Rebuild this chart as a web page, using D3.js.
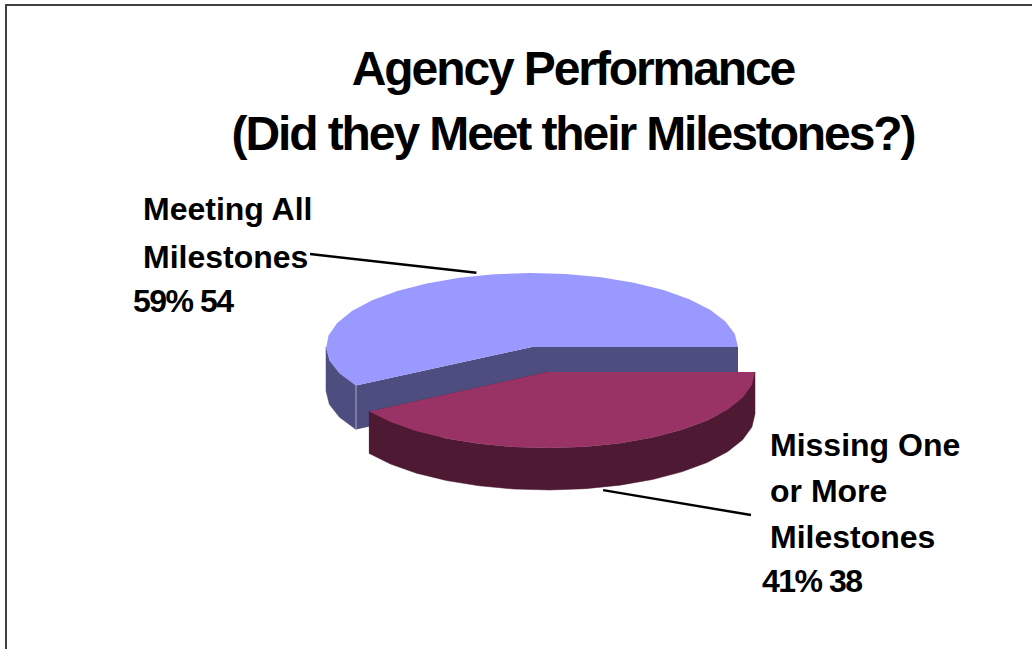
<!DOCTYPE html>
<html>
<head>
<meta charset="utf-8">
<script src="https://d3js.org/d3.v7.min.js"></script>
<style>
  html, body { margin: 0; padding: 0; background: #fff; overflow: hidden; }
  text { font-family: "Liberation Sans", Arial, sans-serif; font-weight: bold; fill: #000; }
</style>
</head>
<body>
<div id="chart"></div>
<script>
// Chart data
const titleLines = ["Agency Performance", "(Did they Meet their Milestones?)"];
const categories = ["Missing One or More Milestones", "Meeting All Milestones"];
const values = [38, 54];
const percents = [41, 59];
const labelLines = [["Missing One", "or More", "Milestones"], ["Meeting All", "Milestones"]];

const width = 1032, height = 649;
const svg = d3.select("#chart").append("svg")
    .attr("width", width)
    .attr("height", height);

// Frame, only left and top fall inside the page
svg.append("rect")
    .attr("x", 6).attr("y", 5)
    .attr("width", width + 20).attr("height", height + 20)
    .attr("fill", "#fff")
    .attr("stroke", "#404040")
    .attr("stroke-width", 2);

// Title
svg.selectAll(".title")
    .data(titleLines)
    .join("text")
    .attr("class", "title")
    .attr("x", 573)
    .attr("y", (d, i) => 85 + i * 65)
    .attr("text-anchor", "middle")
    .style("font-size", "48px")
    .style("letter-spacing", "-2.1px")
    .text(d => d);

// Slice angles, first slice starts at 3 o'clock and runs clockwise
const pie = d3.pie().sort(null).startAngle(Math.PI / 2).endAngle(Math.PI * 2.5);
const arcs = pie(values);

// Tilted pie projection: each slice has its own centre because red is pulled out
const geom = [
    { cx: 547, cy: 372, rx: 208, ry: 76, depth: 42, top: "#993366", side: "#4d1933" },
    { cx: 532, cy: 347, rx: 206, ry: 74, depth: 44, top: "#9999ff", side: "#4d4d80" }
];
const project = (g, angle, r = 1, drop = 0) => [
    g.cx + Math.sin(angle) * g.rx * r,
    g.cy - Math.cos(angle) * g.ry * r + drop
];

// Coarse sampling keeps the faceted edge of the original
const STEP = Math.PI / 18;
const sampleAngles = (a0, a1) => {
    const n = Math.max(1, Math.round((a1 - a0) / STEP));
    return d3.range(n + 1).map(i => a0 + (a1 - a0) * i / n);
};
const line = d3.line();

function drawSlice(i) {
    const g = geom[i], a = arcs[i];
    const rim = sampleAngles(a.startAngle, a.endAngle);
    const centre = project(g, 0, 0);
    const centreLow = project(g, 0, 0, g.depth);

    // Cut faces running from the axis to the rim
    [a.startAngle, a.endAngle].forEach(angle => {
        svg.append("path")
            .attr("d", line([centre, project(g, angle), project(g, angle, 1, g.depth), centreLow]) + "Z")
            .attr("fill", g.side);
    });

    // Outer wall, only the front half of the rim can be seen
    const frontStart = Math.max(a.startAngle, Math.PI / 2);
    const frontEnd = Math.min(a.endAngle, Math.PI * 1.5);
    const front = sampleAngles(frontStart, frontEnd);
    const upper = front.map(t => project(g, t));
    const lower = front.map(t => project(g, t, 1, g.depth)).reverse();
    svg.append("path")
        .attr("d", line(upper.concat(lower)) + "Z")
        .attr("fill", g.side)
        .attr("stroke", g.side)
        .attr("stroke-width", 0.5);

    // Thin light edge where the blue cut meets the rim
    if (i === 1) {
        svg.append("path")
            .attr("d", line([project(g, a.startAngle), project(g, a.startAngle, 1, g.depth)]))
            .attr("stroke", "#a9a9c9")
            .attr("stroke-width", 1);
    }

    // Top face
    svg.append("path")
        .attr("d", line([centre].concat(rim.map(t => project(g, t)))) + "Z")
        .attr("fill", g.top);
}

// Blue sits behind the pulled-out red slice
drawSlice(1);
drawSlice(0);

// Leader lines end at the middle of each slice's rim
const midAngle = a => (a.startAngle + a.endAngle) / 2;
const leaderStarts = [[751, 515], [310, 254]];
const leaderEnds = [
    project(geom[0], midAngle(arcs[0]), 1, geom[0].depth + 3),
    project(geom[1], midAngle(arcs[1]), 1, -3)
];
leaderStarts.forEach((p, i) => {
    svg.append("path")
        .attr("d", line([p, leaderEnds[i]]))
        .attr("fill", "none")
        .attr("stroke", "#000")
        .attr("stroke-width", 2.4);
});

// Data labels
const labelPos = [
    { x: 770, y: 456, step: 46, valueX: 762, valueY: 592 },
    { x: 143, y: 220, step: 48, valueX: 133, valueY: 312 }
];
categories.forEach((c, i) => {
    const p = labelPos[i];
    labelLines[i].forEach((t, j) => {
        svg.append("text")
            .attr("x", p.x)
            .attr("y", p.y + j * p.step)
            .style("font-size", "32px")
            .text(t);
    });
    svg.append("text")
        .attr("x", p.valueX)
        .attr("y", p.valueY)
        .style("font-size", "32px")
        .style("letter-spacing", "-1.5px")
        .text(`${percents[i]}% ${values[i]}`);
});
</script>
</body>
</html>
